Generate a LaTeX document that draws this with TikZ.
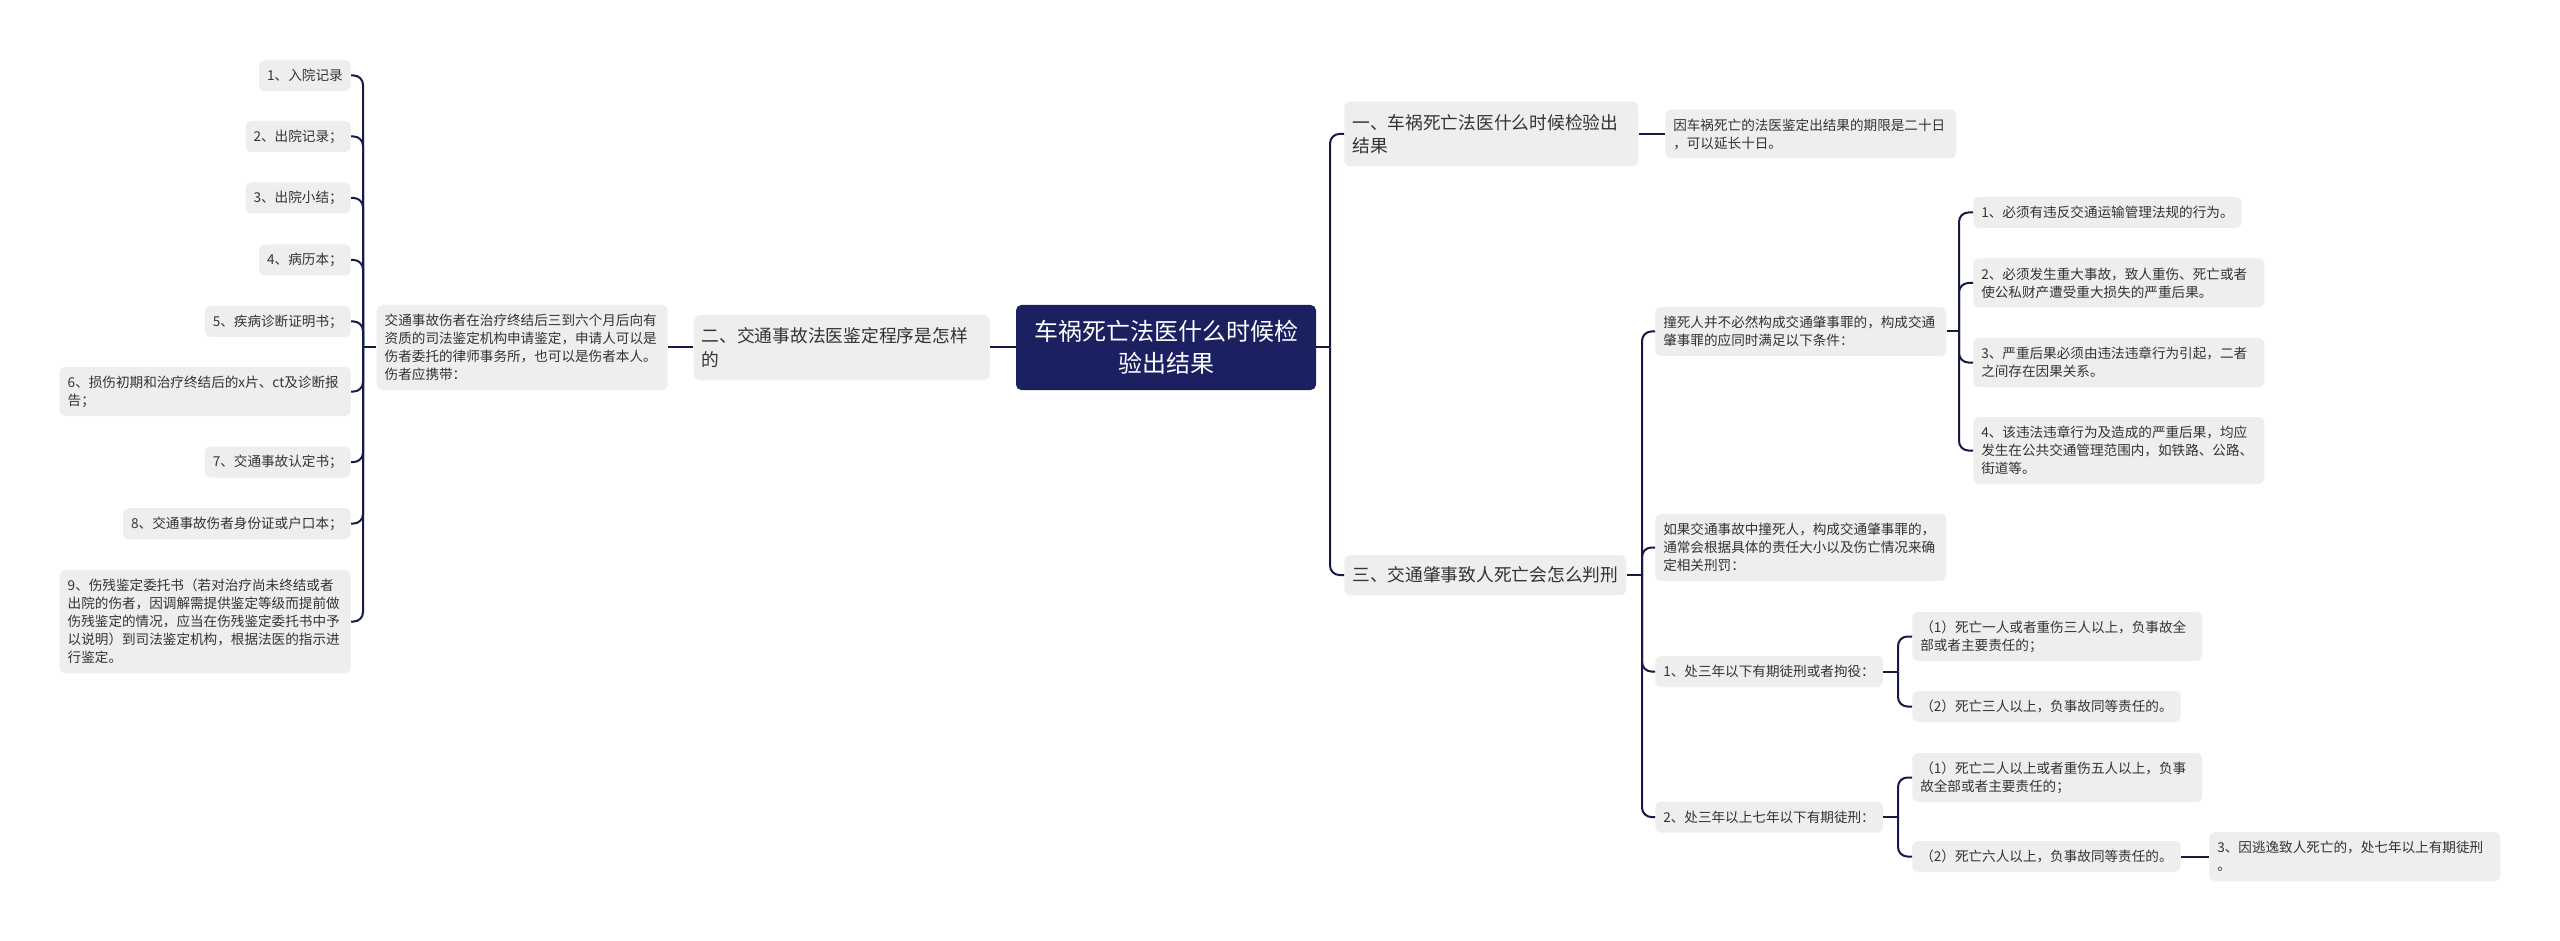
\documentclass[tikz,border=0pt]{standalone}
\usepackage{fontspec}
\setmainfont{Noto Sans CJK SC}
\definecolor{rootc}{HTML}{1A2060}
\definecolor{linec}{HTML}{161B45}
\definecolor{boxc}{HTML}{EEEEEE}
\definecolor{txtc}{HTML}{333333}
\begin{document}
\begin{tikzpicture}[x=0.75pt,y=-0.75pt,
  box/.style={fill=boxc, text=txtc, rounded corners=4pt, inner xsep=6pt, inner ysep=0pt, align=left,
    font=\fontsize{10.2pt}{13.5pt}\selectfont},
  multi/.style={text width=206.25pt},
  lone/.style={box, font=\fontsize{13.3pt}{17.6pt}\selectfont},
  rootbox/.style={fill=rootc, text=white, rounded corners=4pt, align=center, inner sep=0pt,
    font=\fontsize{18pt}{24pt}\selectfont, minimum width=225pt, minimum height=63.75pt},
  ln1/.style={minimum height=23.25pt},
  ln2/.style={minimum height=36.75pt},
  ln3/.style={minimum height=50.25pt},
  ln4/.style={minimum height=63.75pt},
  ln5/.style={minimum height=77.25pt},
  la1/.style={minimum height=30pt},
  la2/.style={minimum height=48.75pt},
  lside/.style={anchor=east},
  rside/.style={anchor=west},
  conn/.style={draw=linec, line width=1.5pt, rounded corners=7pt}
]
\useasboundingbox[fill=white] (0,0) rectangle (2560,941);

% root
\node[rootbox] (root) at (1166,347.5) {车祸死亡法医什么时候检\\验出结果};

% left side
\node[lone,la2,lside,text width=210pt] (L1) at (990,347.5) {二、交通事故法医鉴定程序是怎样\\的};
\node[box,ln4,lside,multi] (L2) at (668,347.5) {交通事故伤者在治疗终结后三到六个月后向有\\资质的司法鉴定机构申请鉴定，申请人可以是\\伤者委托的律师事务所，也可以是伤者本人。\\伤者应携带：};

\node[box,ln1,lside] (i1) at (351,75.5) {1、入院记录};
\node[box,ln1,lside] (i2) at (351,136.5) {2、出院记录；};
\node[box,ln1,lside] (i3) at (351,198) {3、出院小结；};
\node[box,ln1,lside] (i4) at (351,260) {4、病历本；};
\node[box,ln1,lside] (i5) at (351,321.5) {5、疾病诊断证明书；};
\node[box,ln2,lside,multi] (i6) at (351,391.5) {6、损伤初期和治疗终结后的x片、ct及诊断报\\告；};
\node[box,ln1,lside] (i7) at (351,462) {7、交通事故认定书；};
\node[box,ln1,lside] (i8) at (351,523.5) {8、交通事故伤者身份证或户口本；};
\node[box,ln5,lside,multi] (i9) at (351,621.5) {9、伤残鉴定委托书（若对治疗尚未终结或者\\出院的伤者，因调解需提供鉴定等级而提前做\\伤残鉴定的情况，应当在伤残鉴定委托书中予\\以说明）到司法鉴定机构，根据法医的指示进\\行鉴定。};

% right side
\node[lone,la2,rside,text width=208.5pt] (A) at (1344,134) {一、车祸死亡法医什么时候检验出\\结果};
\node[box,ln2,rside,multi] (A1) at (1665,134) {因车祸死亡的法医鉴定出结果的期限是二十日\\，可以延长十日。};

\node[lone,la1,rside] (B) at (1344,575) {三、交通肇事致人死亡会怎么判刑};
\node[box,ln2,rside,multi] (B1) at (1655,331.5) {撞死人并不必然构成交通肇事罪的，构成交通\\肇事罪的应同时满足以下条件：};
\node[box,ln3,rside,multi] (B2) at (1655,547.5) {如果交通事故中撞死人，构成交通肇事罪的，\\通常会根据具体的责任大小以及伤亡情况来确\\定相关刑罚：};
\node[box,ln1,rside] (B3) at (1655,671.5) {1、处三年以下有期徒刑或者拘役：};
\node[box,ln1,rside] (B4) at (1655,817) {2、处三年以上七年以下有期徒刑：};

\node[box,ln1,rside] (B1a) at (1973,212.5) {1、必须有违反交通运输管理法规的行为。};
\node[box,ln2,rside,multi] (B1b) at (1973,283) {2、必须发生重大事故，致人重伤、死亡或者\\使公私财产遭受重大损失的严重后果。};
\node[box,ln2,rside,multi] (B1c) at (1973,362.5) {3、严重后果必须由违法违章行为引起，二者\\之间存在因果关系。};
\node[box,ln3,rside,multi] (B1d) at (1973,450.5) {4、该违法违章行为及造成的严重后果，均应\\发生在公共交通管理范围内，如铁路、公路、\\街道等。};

\node[box,ln2,rside,text width=205.5pt] (B3a) at (1912,636.5) {（1）死亡一人或者重伤三人以上，负事故全\\部或者主要责任的；};
\node[box,ln1,rside] (B3b) at (1912,706.5) {（2）死亡三人以上，负事故同等责任的。};
\node[box,ln2,rside,text width=205.5pt] (B4a) at (1912,777.5) {（1）死亡二人以上或者重伤五人以上，负事\\故全部或者主要责任的；};
\node[box,ln1,rside] (B4b) at (1912,856.5) {（2）死亡六人以上，负事故同等责任的。};
\node[box,ln2,rside,multi] (C) at (2209,856.5) {3、因逃逸致人死亡的，处七年以上有期徒刑\\。};

% connectors
\draw[conn] (root.west) -- (L1.east);
\draw[conn] (L1.west) -- (L2.east);
\coordinate (sL) at (363,347.5);
\draw[conn] (L2.west) -- (sL);
\foreach \c in {i1,i2,i3,i4,i5,i6,i7,i8,i9} \draw[conn] (sL) |- (\c.east);

\coordinate (sR) at (1330,347.5);
\draw[conn] (root.east) -- (sR);
\draw[conn] (sR) |- (A.west);
\draw[conn] (sR) |- (B.west);
\draw[conn] (A.east) -- (A1.west);

\coordinate (sB) at (1642,575);
\draw[conn] (B.east) -- (sB);
\foreach \c in {B1,B2,B3,B4} \draw[conn] (sB) |- (\c.west);

\coordinate (sB1) at (1959,331.5);
\draw[conn] (B1.east) -- (sB1);
\foreach \c in {B1a,B1b,B1c,B1d} \draw[conn] (sB1) |- (\c.west);

\coordinate (sB3) at (1898,671.5);
\draw[conn] (B3.east) -- (sB3);
\foreach \c in {B3a,B3b} \draw[conn] (sB3) |- (\c.west);

\coordinate (sB4) at (1898,817);
\draw[conn] (B4.east) -- (sB4);
\foreach \c in {B4a,B4b} \draw[conn] (sB4) |- (\c.west);

\draw[conn] (B4b.east) -- (C.west);
\end{tikzpicture}
\end{document}
